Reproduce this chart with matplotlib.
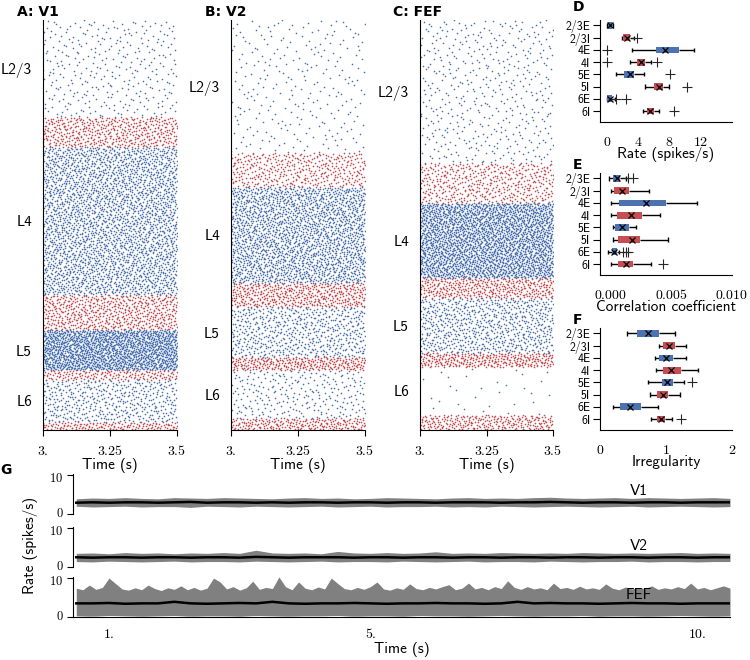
import numpy as np
import matplotlib
matplotlib.use("Agg")
import matplotlib.pyplot as plt
import matplotlib.transforms as mtransforms

plt.rcParams["mathtext.fontset"] = "cm"
plt.rcParams["axes.formatter.use_mathtext"] = True
SANS = ["cmss10", "DejaVu Sans"]

BLUE = "#4C72B0"
RED = "#C44E52"

# ---- rasters (A-C) ----
panel_titles = ["A: V1", "B: V2", "C: FEF"]
layer_names = ["L2/3", "L4", "L5", "L6"]
pops = ["2/3E", "2/3I", "4E", "4I", "5E", "5I", "6E", "6I"]
pop_colors = [BLUE, RED] * 4

# band height of each population in the raster, top to bottom (neurons shown)
band_v1 = [97, 30, 148, 35, 40, 10, 42, 8]
band_v2 = [133, 34, 96, 24, 50, 13, 48, 12]
band_fef = [143, 40, 75, 20, 55, 14, 48, 15]
# spikes shown per population between 3.0 s and 3.5 s
spikes_v1 = [330, 500, 2800, 620, 1700, 175, 450, 160]
spikes_v2 = [270, 410, 2050, 480, 600, 310, 260, 240]
spikes_fef = [480, 480, 2600, 400, 730, 330, 30, 280]

raster_ticks = [3.0, 3.25, 3.5]
raster_ticklabels = ["3.", "3.25", "3.5"]

# ---- box plots (D-F), per population ----
rate_q1 = [0.15, 2.1, 6.3, 3.9, 2.2, 6.0, 0.0, 5.1]
rate_q3 = [0.65, 2.9, 9.2, 4.8, 3.4, 7.2, 0.6, 6.0]
rate_mean = [0.4, 2.5, 7.4, 4.35, 3.0, 6.6, 0.35, 5.55]
rate_lo = [0.05, 1.9, 3.2, 3.0, 1.1, 4.8, 0.0, 4.6]
rate_hi = [0.75, 3.4, 11.1, 5.6, 4.7, 7.9, 1.0, 6.6]
rate_fliers = [[], [3.8], [0.0], [0.0, 6.4], [8.1], [10.2], [1.2, 2.4], [8.6]]

corr_q1 = [0.00019, 0.00027, 0.00069, 0.00047, 0.00033, 0.0006, 0.00005, 0.00055]
corr_q3 = [0.00074, 0.00149, 0.00455, 0.00254, 0.00152, 0.0024, 0.00052, 0.0018]
corr_mean = [0.00047, 0.00088, 0.0029, 0.00163, 0.00094, 0.00176, 0.00025, 0.00124]
corr_lo = [-0.00017, -0.00002, 0.0, 0.0, 0.00014, 0.00014, -0.00022, 0.0]
corr_hi = [0.00124, 0.00314, 0.0071, 0.00405, 0.00207, 0.00474, 0.00069, 0.00328]
corr_fliers = [[0.00143, 0.0018], [], [], [], [], [], [0.001, 0.00123, 0.00143], [0.00432]]

irr_q1 = [0.56, 0.95, 0.90, 0.96, 0.94, 0.87, 0.30, 0.86]
irr_q3 = [0.90, 1.13, 1.11, 1.23, 1.10, 1.03, 0.62, 0.99]
irr_mean = [0.73, 1.05, 1.00, 1.08, 1.02, 0.95, 0.46, 0.92]
irr_lo = [0.41, 0.89, 0.84, 0.85, 0.73, 0.76, 0.19, 0.77]
irr_hi = [1.14, 1.30, 1.31, 1.48, 1.28, 1.21, 0.88, 1.09]
irr_fliers = [[], [], [], [], [1.40], [], [], [1.22]]

# ---- population rates (G) ----
t_coarse = np.linspace(0.5, 10.5, 41)
t_fine = np.linspace(0.5, 10.5, 101)

v1_upper = [3.9, 4.1, 4.0, 4.2, 4.0, 3.9, 4.2, 4.1, 4.0, 4.2, 4.1, 4.0, 3.9, 4.1,
            4.2, 4.0, 4.1, 3.9, 4.0, 4.2, 4.1, 4.0, 3.9, 4.1, 4.2, 4.0, 4.1, 4.0,
            4.2, 4.3, 4.1, 4.0, 4.1, 4.2, 4.0, 4.2, 4.1, 4.0, 4.1, 4.2, 4.0]
v1_lower = [2.0, 1.8, 1.9, 2.0, 1.8, 1.9, 1.9, 1.7, 2.0, 1.9, 1.8, 2.0, 1.9, 1.8,
            1.9, 2.0, 1.8, 1.9, 2.0, 1.8, 1.9, 1.9, 2.0, 1.8, 1.9, 1.8, 2.0, 1.9,
            1.8, 1.9, 2.0, 1.9, 1.8, 1.9, 2.0, 1.8, 1.9, 2.0, 1.9, 1.8, 1.9]
v1_mean = [2.9, 3.0, 2.9, 3.0, 3.0, 2.9, 3.0, 3.1, 2.9, 3.0, 3.0, 2.9, 3.0, 2.9,
           3.0, 3.0, 2.9, 3.0, 3.0, 2.9, 3.0, 3.0, 2.9, 3.0, 3.0, 3.0, 2.9, 3.0,
           3.0, 3.1, 3.0, 2.9, 3.0, 3.0, 2.9, 3.0, 3.0, 2.9, 3.0, 3.0, 3.0]

v2_upper = [3.5, 3.6, 3.4, 3.7, 3.5, 3.6, 3.4, 3.6, 3.5, 3.7, 3.5, 4.3, 3.6, 3.5,
            3.6, 3.4, 4.0, 3.6, 3.5, 3.7, 3.5, 3.6, 3.9, 3.5, 3.6, 3.5, 3.7, 3.6,
            3.5, 3.6, 3.5, 3.7, 3.6, 3.5, 3.6, 3.5, 3.6, 3.7, 3.5, 3.6, 3.5]
v2_lower = [1.4, 1.3, 1.5, 1.4, 1.3, 1.4, 1.5, 1.3, 1.4, 1.4, 1.3, 1.5, 1.4, 1.3,
            1.4, 1.5, 1.3, 1.4, 1.4, 1.3, 1.5, 1.4, 1.3, 1.4, 1.5, 1.3, 1.4, 1.4,
            1.3, 1.5, 1.4, 1.3, 1.4, 1.4, 1.5, 1.3, 1.4, 1.4, 1.3, 1.4, 1.4]
v2_mean = [2.5, 2.4, 2.5, 2.5, 2.4, 2.5, 2.5, 2.4, 2.5, 2.5, 2.4, 2.6, 2.5, 2.4,
           2.5, 2.5, 2.5, 2.4, 2.5, 2.5, 2.4, 2.5, 2.5, 2.4, 2.5, 2.5, 2.4, 2.5,
           2.5, 2.4, 2.5, 2.5, 2.4, 2.5, 2.5, 2.4, 2.5, 2.5, 2.4, 2.5, 2.5]

fef_upper = [7.4, 7.0, 8.2, 7.1, 7.6, 10.0, 8.6, 7.2, 6.9, 7.5,
             7.0, 8.2, 7.3, 6.8, 7.5, 7.1, 8.0, 7.0, 7.6, 6.9,
             7.4, 10.0, 9.0, 7.2, 7.8, 6.9, 7.5, 9.2, 7.1, 7.6,
             7.3, 10.3, 7.8, 7.0, 9.0, 7.4, 7.0, 7.7, 7.2, 10.0,
             8.6, 7.3, 7.0, 7.6, 7.1, 7.8, 9.0, 7.2, 6.9, 7.5,
             7.1, 8.5, 7.3, 7.0, 7.6, 7.2, 7.8, 8.3, 7.0, 7.4,
             8.7, 7.2, 7.6, 7.0, 7.8, 7.3, 9.3, 7.6, 7.1, 7.8,
             7.2, 7.5, 7.0, 8.7, 7.3, 7.6, 7.1, 7.9, 7.2, 7.5,
             7.1, 8.5, 7.4, 7.0, 7.7, 7.2, 7.6, 7.3, 8.0, 7.1,
             7.5, 7.2, 7.8, 7.3, 8.7, 7.2, 7.6, 7.0, 7.5, 8.0,
             7.4]
fef_lower = [0.3, 0.2, 0.4, 0.3, 0.2, 0.3, 0.4, 0.2, 0.3, 0.3, 0.2, 0.4, 0.3, 0.2,
             0.3, 0.3, 0.4, 0.2, 0.3, 0.3, 0.2, 0.4, 0.3, 0.3, 0.2, 0.3, 0.4, 0.3,
             0.2, 0.3, 0.3, 0.4, 0.2, 0.3, 0.3, 0.2, 0.3, 0.4, 0.3, 0.2, 0.3]
fef_mean = [3.5, 3.5, 3.6, 3.4, 3.5, 3.5, 3.9, 3.5, 3.4, 3.5, 3.6, 3.5, 3.9, 3.5,
            3.4, 3.5, 3.5, 3.6, 3.5, 3.4, 3.5, 3.5, 3.6, 3.5, 3.5, 3.4, 3.5, 3.9,
            3.5, 3.6, 3.5, 3.5, 3.4, 3.5, 3.6, 3.5, 3.5, 3.4, 3.5, 3.5, 3.5]

g_areas = ["V1", "V2", "FEF"]


def rm(s):
    return "$" + s + "$"


def halton(n, base, start):
    idx = np.arange(start, start + n)
    f = np.ones(n)
    r = np.zeros(n)
    while np.any(idx > 0):
        f = f / base
        r = r + f * (idx % base)
        idx = idx // base
    return r


fig = plt.figure(figsize=(7.5, 6.6), dpi=100)

raster_left = [43, 231, 420]
raster_width = [134, 134, 133]
title_x = [17, 205, 393]
offset = 1
for k, (bands, spikes) in enumerate([(band_v1, spikes_v1), (band_v2, spikes_v2), (band_fef, spikes_fef)]):
    ax = fig.add_axes([raster_left[k] / 750, 1 - 430 / 660, raster_width[k] / 750, 410 / 660])
    total = sum(bands)
    top = total
    centers = []
    for i in range(8):
        bottom = top - bands[i]
        n = spikes[i]
        xs = 3.0 + 0.5 * halton(n, 2, offset)
        ys = bottom + bands[i] * halton(n, 3, offset)
        offset += n + 7
        ax.scatter(xs, ys, s=1.4, color=pop_colors[i], linewidths=0)
        if i % 2 == 0:
            centers.append((top + bottom) / 2)
        top = bottom
    ax.set_xlim(3.0, 3.5)
    ax.set_ylim(0, total)
    ax.spines["top"].set_visible(False)
    ax.spines["right"].set_visible(False)
    ax.set_xticks(raster_ticks)
    ax.set_xticklabels([rm(s) for s in raster_ticklabels], fontsize=10)
    ax.set_yticks(centers)
    ax.set_yticklabels(layer_names, fontsize=11, family=SANS)
    ax.tick_params(axis="y", length=0, pad=8)
    ax.tick_params(axis="x", length=4, pad=6)
    ax.set_xlabel("Time (s)", fontsize=11, family=SANS, labelpad=0)
    fig.text(title_x[k] / 750, 1 - 12 / 660, panel_titles[k], fontsize=10,
             fontweight="bold", va="center", ha="left")

box_specs = [
    (rate_q1, rate_q3, rate_mean, rate_lo, rate_hi, rate_fliers, 122, (-0.9, 16.0),
     [0, 4, 8, 12], ["0", "4", "8", "12"], "Rate (spikes/s)", "D", 7),
    (corr_q1, corr_q3, corr_mean, corr_lo, corr_hi, corr_fliers, 275, (-0.0009, 0.010),
     [0.0, 0.005, 0.010], ["0.000", "0.005", "0.010"], "Correlation coefficient", "E", 165),
    (irr_q1, irr_q3, irr_mean, irr_lo, irr_hi, irr_fliers, 430, (0, 2),
     [0, 1, 2], ["0", "1", "2"], "Irregularity", "F", 320),
]
for q1, q3, mean, lo, hi, fliers, ybot, xlim, ticks, ticklabels, xlabel, letter, ly in box_specs:
    ax = fig.add_axes([600 / 750, 1 - ybot / 660, 132 / 750, 102 / 660])
    for i in range(8):
        c = pop_colors[i]
        ax.barh(i, q3[i] - q1[i], left=q1[i], height=0.55, color=c, zorder=2)
        ax.hlines(i, lo[i], q1[i], color="k", lw=1.0, zorder=1)
        ax.hlines(i, q3[i], hi[i], color="k", lw=1.0, zorder=1)
        ax.vlines([lo[i], hi[i]], i - 0.17, i + 0.17, color="k", lw=1.0, zorder=1)
        ax.plot(mean[i], i, "x", color="k", ms=4, mew=0.9, zorder=3)
        if fliers[i]:
            ax.plot(fliers[i], [i] * len(fliers[i]), "+", color="0.15", ms=7, mew=0.8, zorder=3)
    ax.set_ylim(7.9, -0.45)
    ax.set_xlim(*xlim)
    ax.spines["top"].set_visible(False)
    ax.spines["right"].set_visible(False)
    ax.set_yticks(range(8))
    ax.set_yticklabels(pops, fontsize=8.5, family=SANS)
    ax.tick_params(axis="y", length=5, pad=2)
    ax.set_xticks(ticks)
    ax.set_xticklabels([rm(s) for s in ticklabels], fontsize=10)
    ax.tick_params(axis="x", length=0, pad=9)
    ax.set_xlabel(xlabel, fontsize=11, family=SANS, labelpad=-1)
    fig.text(573 / 750, 1 - ly / 660, letter, fontsize=10, fontweight="bold",
             va="center", ha="left")

g_bottoms = [514, 567, 617]
g_data = [
    (t_coarse, v1_upper, v1_lower, v1_mean, 5.8),
    (t_coarse, v2_upper, v2_lower, v2_mean, 5.5),
    (t_fine, fef_upper, fef_lower, fef_mean, 5.6),
]
for k, (tu, upper, lower, mean, label_y) in enumerate(g_data):
    ax = fig.add_axes([73 / 750, 1 - g_bottoms[k] / 660, 657 / 750, 40.5 / 660])
    lower_on_tu = np.interp(tu, t_coarse, lower)
    ax.fill_between(tu, lower_on_tu, upper, color="0.5", lw=0)
    ax.plot(t_coarse, mean, color="k", lw=1.8)
    ax.set_xlim(0.45, 10.5)
    ax.set_ylim(0, 10.4)
    ax.spines["top"].set_visible(False)
    ax.spines["right"].set_visible(False)
    ax.set_yticks([0, 10])
    ax.set_yticklabels([rm("0"), rm("10")], fontsize=9)
    ax.tick_params(axis="y", length=4, pad=3)
    # nudge the stacked "0" / "10" labels apart a little
    lab0, lab10 = ax.get_yticklabels()
    lab0.set_transform(lab0.get_transform()
                       + mtransforms.ScaledTranslation(0, 1.5 / 72, fig.dpi_scale_trans))
    lab10.set_transform(lab10.get_transform()
                        + mtransforms.ScaledTranslation(0, -1.5 / 72, fig.dpi_scale_trans))
    ax.text(9.1, label_y, g_areas[k], fontsize=11, family=SANS, ha="center", va="center")
    if k < 2:
        ax.spines["bottom"].set_visible(False)
        ax.set_xticks([])
    else:
        ax.set_xticks([1, 5, 10])
        ax.set_xticklabels([rm("1."), rm("5."), rm("10.")], fontsize=10)
        ax.tick_params(axis="x", length=0, pad=7)
        ax.set_xlabel("Time (s)", fontsize=11, family=SANS, labelpad=1)

fig.text(30 / 750, 1 - 545 / 660, "Rate (spikes/s)", fontsize=11, family=SANS,
         rotation=90, ha="center", va="center")
fig.text(0 / 750, 1 - 470 / 660, "G", fontsize=10, fontweight="bold", va="center", ha="left")

fig.savefig("out.png", dpi=100)
